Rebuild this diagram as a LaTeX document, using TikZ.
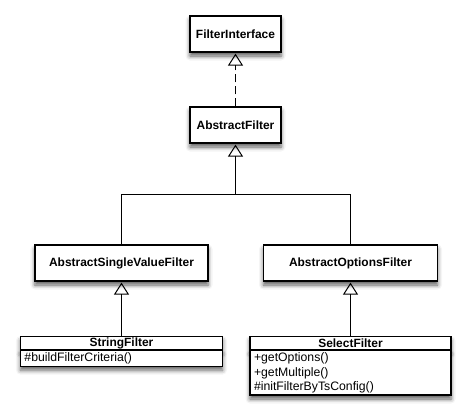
\documentclass[tikz,border=0pt]{standalone}
\usepackage{fontspec}
\setmainfont{Liberation Sans}
\usetikzlibrary{arrows.meta,shadows.blur}
\tikzset{
  shd/.style={blur shadow={shadow xshift=0bp, shadow yshift=-4bp, shadow blur radius=4.5bp, shadow opacity=65}},
  absbox/.style={draw=black, line width=1.2bp, fill=white, shd, minimum height=36bp, inner sep=0pt,
    font=\fontsize{12}{14}\selectfont\bfseries},
  hdr/.style={draw=black, line width=1.2bp, fill=white, shd, minimum height=13bp, inner sep=0pt,
    font=\fontsize{12}{13}\selectfont\bfseries},
  body/.style={draw=black, line width=1.2bp, fill=white, shd, inner xsep=4bp, inner ysep=2bp,
    align=left, font=\fontsize{12.3}{14.5}\selectfont},
  conn/.style={line width=1bp, draw=black},
  gen/.style={conn, -{Triangle[open, length=12bp, width=15bp, line width=1bp]}, shorten >=1bp},
}
\begin{document}
\begin{tikzpicture}[x=1bp, y=-1bp]
\useasboundingbox (0,0) rectangle (471,416);
% nodes
\node[absbox, minimum width=91bp] (fi) at (235.5,34) {FilterInterface};
\node[absbox, minimum width=91bp] (af) at (235.5,125) {AbstractFilter};
\node[absbox, minimum width=173bp] (asv) at (121.5,263) {AbstractSingleValueFilter};
\node[absbox, minimum width=174bp] (aof) at (350.5,263) {AbstractOptionsFilter};
\node[hdr, minimum width=202bp] (sf) at (121.5,343) {StringFilter};
\node[body, text width=194bp, anchor=north] (sfb) at (sf.south) {\#buildFilterCriteria()};
\node[hdr, minimum width=201bp] (sel) at (350.5,343) {SelectFilter};
\node[body, text width=193bp, anchor=north] (selb) at (sel.south) {+getOptions()\\+getMultiple()\\\#initFilterByTsConfig()};
\coordinate (j) at (235.5,194);
% connectors
\draw[gen, dash pattern=on 8bp off 4bp] (af.north) -- (fi.south);
\draw[conn] (asv.north) |- (j);
\draw[conn] (aof.north) |- (j);
\draw[gen] (j) -- (af.south);
\draw[gen] (sf.north) -- (asv.south);
\draw[gen] (sel.north) -- (aof.south);
\end{tikzpicture}
\end{document}
